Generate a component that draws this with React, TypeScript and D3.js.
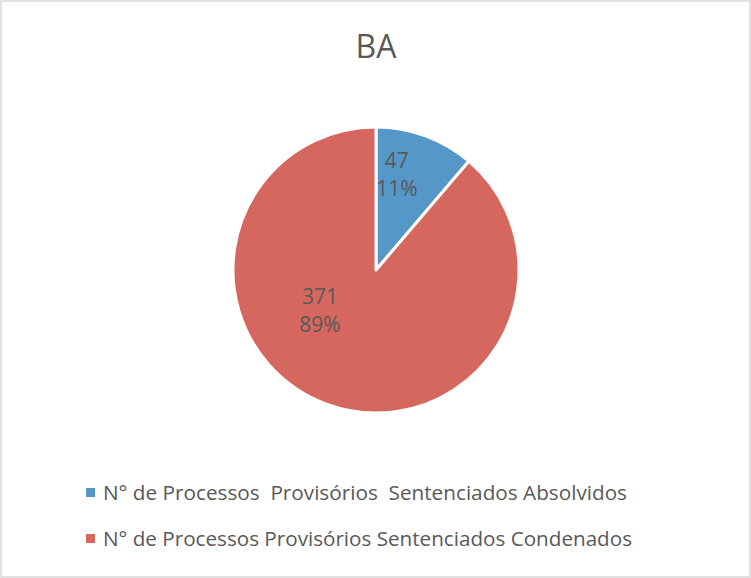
import React from "react";
import * as d3 from "d3";

const title = "BA";
const categories = [
  "N° de Processos  Provisórios  Sentenciados Absolvidos",
  "N° de Processos Provisórios Sentenciados Condenados",
];
const values = [47, 371];
const colors = ["#5597C9", "#D6675F"];
// label placement: angle (deg, clockwise from 12 o'clock) and radius fraction
const labelAngles = [12.2, 234.8];
const labelRadii = [0.69, 0.48];
const legendWidths = [524, 529];

const W = 751;
const H = 578;
const cx = 376;
const cy = 270;
const R = 143;
const FONT = "'Open Sans', 'Noto Sans', sans-serif";
const TEXT = "#595959";

export default function App() {
  const total = d3.sum(values);
  const pie = d3
    .pie<number>()
    .sort(null)
    .value((d) => d)
    .startAngle(0)
    .endAngle(2 * Math.PI);
  const arcs = pie(values);
  const arc = d3.arc<d3.PieArcDatum<number>>().innerRadius(0).outerRadius(R);
  const fmt = d3.format(".0%");

  return (
    <svg
      width={W}
      height={H}
      style={{ position: "absolute", left: 0, top: 0, background: "#fff" }}
    >
      <rect x={1} y={1} width={W - 2} height={H - 2} fill="#fff" stroke="#d9d9d9" strokeWidth={1.5} />
      <text x={376} y={58} textAnchor="middle" fontFamily={FONT} fontSize={32} fill={TEXT}>
        {title}
      </text>
      <g transform={`translate(${cx},${cy})`}>
        {arcs.map((a, i) => (
          <path key={i} d={arc(a) || ""} fill={colors[i]} stroke="#fff" strokeWidth={3} strokeLinejoin="round" />
        ))}
        {arcs.map((a, i) => {
          const ang = (labelAngles[i] * Math.PI) / 180;
          const r = labelRadii[i] * R;
          const x = r * Math.sin(ang);
          const y = -r * Math.cos(ang);
          return (
            <text key={i} x={x} y={y} textAnchor="middle" fontFamily={FONT} fontSize={21} fill={TEXT}>
              <tspan x={x} dy={-6}>{values[i]}</tspan>
              <tspan x={x} dy={28}>{fmt(values[i] / total)}</tspan>
            </text>
          );
        })}
      </g>
      {categories.map((c, i) => (
        <g key={i}>
          <rect x={86} y={488 + i * 46} width={9} height={9} fill={colors[i]} />
          <text
            x={103}
            y={500 + i * 46}
            fontFamily={FONT}
            fontSize={20}
            fill={TEXT}
            style={{ whiteSpace: "pre" }}
            textLength={legendWidths[i]}
            lengthAdjust="spacingAndGlyphs"
          >
            {c}
          </text>
        </g>
      ))}
    </svg>
  );
}
